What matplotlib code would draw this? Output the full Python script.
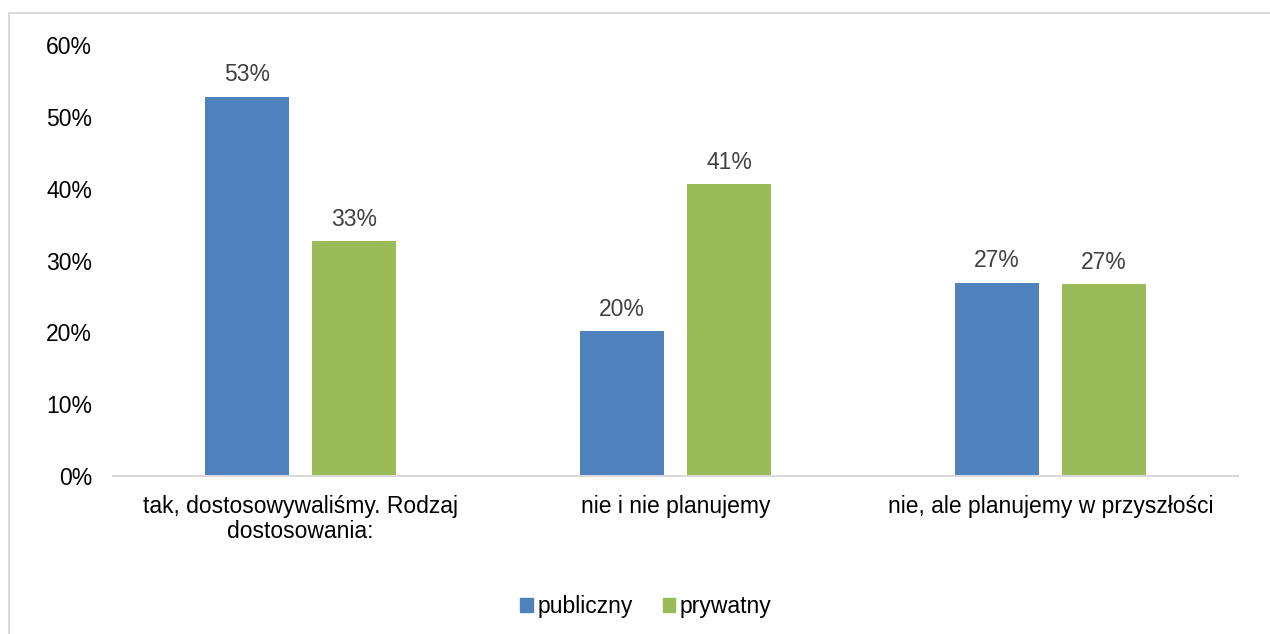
import matplotlib
matplotlib.use("Agg")
import matplotlib.pyplot as plt
from matplotlib.lines import Line2D
import numpy as np

categories = ["tak, dostosowywaliśmy. Rodzaj\ndostosowania:", "nie i nie planujemy", "nie, ale planujemy w przyszłości"]
series_names = ["publiczny", "prywatny"]
publiczny = [52.8, 20.2, 26.9]
prywatny = [32.7, 40.6, 26.7]
yticks = [0, 10, 20, 30, 40, 50, 60]

plt.rcParams['font.family'] = ['Liberation Sans', 'DejaVu Sans']
FS = 16.5

fig = plt.figure(figsize=(12.7, 6.34), dpi=100)
ax = fig.add_axes([113/1270, 1-476/634, 1125/1270, (476-45.2)/634])

x = np.arange(len(categories))
w = 0.224
off = 0.143
colors = ["#4f81bd", "#9bbb59"]
b1 = ax.bar(x - off, publiczny, w, color=colors[0], label=series_names[0])
b2 = ax.bar(x + off, prywatny, w, color=colors[1], label=series_names[1])

for bars, vals in ((b1, publiczny), (b2, prywatny)):
    for rect, v in zip(bars, vals):
        ax.annotate(f"{int(v + 0.5):d}%", (rect.get_x() + rect.get_width()/2, v),
                    xytext=(0, 7.5), textcoords="offset points", ha="center", va="bottom",
                    fontsize=FS, color="#404040")

ax.set_xlim(-0.5, 2.5)
ax.set_ylim(0, 60)
ax.set_yticks(yticks)
ax.set_yticklabels([f"{t}%" for t in yticks], fontsize=FS, color="#000000")
ax.set_xticks(x)
ax.set_xticklabels(categories, fontsize=FS, color="#000000", va="top", linespacing=1.1)
ax.tick_params(axis="both", length=0)
ax.tick_params(axis="y", pad=15)
ax.tick_params(axis="x", pad=14)
for s in ["top", "right", "left"]:
    ax.spines[s].set_visible(False)
ax.spines["bottom"].set_color("#d9d9d9")
ax.spines["bottom"].set_linewidth(1.5)

handles = [plt.Rectangle((0, 0), 1, 1, color=c) for c in colors]
fig.legend(handles, series_names, loc="center", bbox_to_anchor=(646/1270, 1-607/634),
           ncol=2, frameon=False, fontsize=FS, handlelength=0.55, handleheight=0.55,
           handletextpad=0.2, columnspacing=1.3)

# outer border (top and left visible)
fig.add_artist(Line2D([8.5/1270, 1], [1-12.5/634, 1-12.5/634], color="#d9d9d9", lw=1.5))
fig.add_artist(Line2D([8.5/1270, 8.5/1270], [0, 1-12.5/634], color="#d9d9d9", lw=1.5))

fig.savefig("out.png", dpi=100)
